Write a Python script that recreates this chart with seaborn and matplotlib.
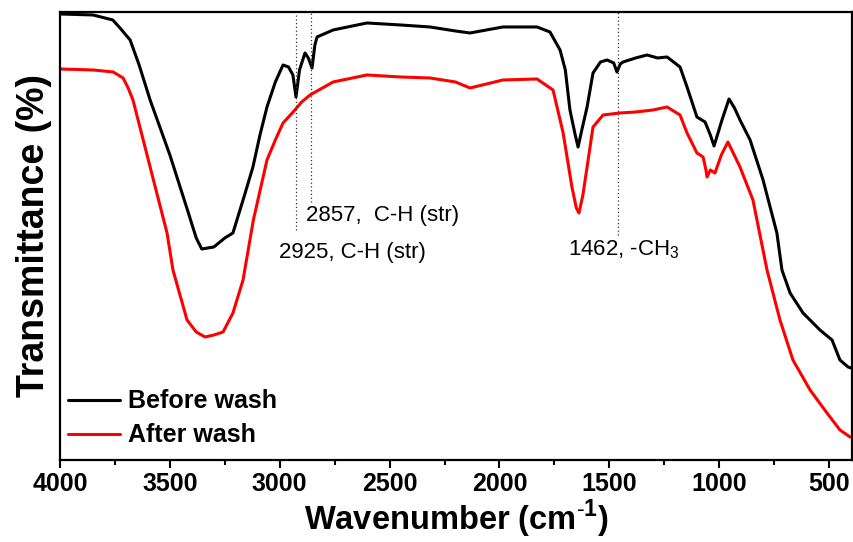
import numpy as np
import pandas as pd
import matplotlib
matplotlib.use("Agg")
import matplotlib.pyplot as plt
import seaborn as sns

# wavenumber (cm-1) and transmittance (arbitrary units)
before_wn = [4000, 3850, 3760, 3727, 3681, 3640, 3590, 3500, 3420, 3380, 3355, 3300, 3250,
             3213, 3160, 3122, 3090, 3058, 3020, 2985, 2960, 2940, 2926, 2910, 2885, 2870,
             2853, 2840, 2830, 2757, 2603, 2450, 2316, 2200, 2134, 1984, 1829, 1770, 1724,
             1700, 1679, 1655, 1642, 1625, 1601, 1574, 1540, 1510, 1480, 1465, 1450, 1437,
             1380, 1328, 1280, 1237, 1178, 1146, 1101, 1064, 1040, 1023, 987, 955, 930, 905,
             859, 800, 737, 714, 677, 618, 541, 486, 450, 413, 400]
before_t = [446, 445, 440, 432, 420, 395, 360, 305, 250, 222, 211, 213, 222,
            227, 265, 293, 325, 353, 378, 395, 393, 385, 363, 390, 407, 402,
            392, 415, 423, 430, 437, 435, 433, 429, 427, 433, 433, 428, 410,
            390, 350, 325, 313, 330, 353, 387, 398, 400, 397, 388, 396, 398,
            402, 405, 402, 403, 393, 373, 343, 338, 325, 314, 340, 361, 352, 340,
            320, 280, 227, 190, 167, 147, 130, 120, 100, 93, 92]

after_wn = [4000, 3850, 3758, 3713, 3690, 3668, 3590, 3513, 3486, 3422, 3380, 3340, 3300,
            3258, 3213, 3167, 3120, 3058, 3020, 2985, 2939, 2900, 2862, 2757, 2603, 2450,
            2316, 2200, 2134, 1984, 1829, 1756, 1710, 1670, 1650, 1638, 1620, 1601, 1574,
            1528, 1451, 1380, 1301, 1237, 1178, 1146, 1101, 1073, 1060, 1055, 1040, 1019,
            990, 960, 905, 846, 782, 723, 664, 586, 509, 450, 404]
after_t = [391, 390, 388, 382, 372, 360, 293, 227, 190, 140, 128, 123, 125,
           128, 147, 180, 240, 300, 320, 337, 348, 358, 365, 378, 385, 383,
           382, 378, 372, 380, 381, 370, 327, 273, 252, 247, 265, 293, 333,
           345, 347, 348, 350, 353, 345, 327, 307, 303, 290, 283, 290, 287,
           305, 318, 293, 260, 190, 140, 100, 70, 47, 30, 23]

series = ["Before wash", "After wash"]
colors = ["black", "red"]

peaks = [2925, 2857, 1462]
peak_tops = [230, 258, 225]  # where each dotted guide ends (y, same units)

df = pd.concat([
    pd.DataFrame({"wn": before_wn, "T": before_t, "sample": series[0]}),
    pd.DataFrame({"wn": after_wn, "T": after_t, "sample": series[1]}),
])

sns.set_style("ticks")
plt.rcParams["font.family"] = ["Liberation Sans", "DejaVu Sans"]
plt.rcParams["mathtext.fontset"] = "custom"
plt.rcParams["mathtext.rm"] = "Liberation Sans"
plt.rcParams["mathtext.bf"] = "Liberation Sans:bold"
for k in ["text.color", "axes.labelcolor", "xtick.color", "ytick.color", "axes.edgecolor"]:
    plt.rcParams[k] = "black"

fig = plt.figure(figsize=(8.54, 5.42), dpi=100)
ax = fig.add_axes([0.0703, 0.1513, 0.9274, 0.8266])

sns.lineplot(data=df, x="wn", y="T", hue="sample", palette=dict(zip(series, colors)),
             estimator=None, sort=False, linewidth=2.2, ax=ax)

ax.set_xlim(4000, 395)
ax.set_ylim(0, 448)
ax.set_yticks([])
ax.set_xticks([4000, 3500, 3000, 2500, 2000, 1500, 1000, 500])
ax.set_xticks(np.arange(3750, 395, -500), minor=True)
ax.tick_params(axis="x", which="major", direction="out", length=6, width=1.5,
               labelsize=18, pad=3)
ax.tick_params(axis="x", which="minor", direction="out", length=3.5, width=1.5)
for lab in ax.get_xticklabels():
    lab.set_fontweight("bold")
for sp in ax.spines.values():
    sp.set_linewidth(1.6)

# dotted guides for the assigned peaks
for p, top in zip(peaks, peak_tops):
    ax.plot([p, p], [top, 448], ls=(0, (1, 2)), color="#333333", lw=0.9)

ax.text(2880, 244, "2857,  C-H (str)", fontsize=16, ha="left", va="center")
ax.text(3005, 207, "2925, C-H (str)", fontsize=16, ha="left", va="center")
ax.text(1435, 210, "1462, -CH$_3$", fontsize=16, ha="center", va="center")

ax.set_xlabel(r"Wavenumber (cm$^{\mathbf{\text{-}1}}$)", fontsize=23.5, fontweight="bold",
              labelpad=1)
ax.set_ylabel("Transmittance (%)", fontsize=27, fontweight="bold", labelpad=6)

leg = ax.legend(loc="lower left", bbox_to_anchor=(0.01, 0.028), frameon=False,
                borderpad=0, borderaxespad=0, handlelength=2.1, handletextpad=0.3,
                labelspacing=0.4, prop={"size": 18, "weight": "bold"})
for h in leg.get_lines():
    h.set_linewidth(2.2)

fig.savefig("out.png", dpi=100)
